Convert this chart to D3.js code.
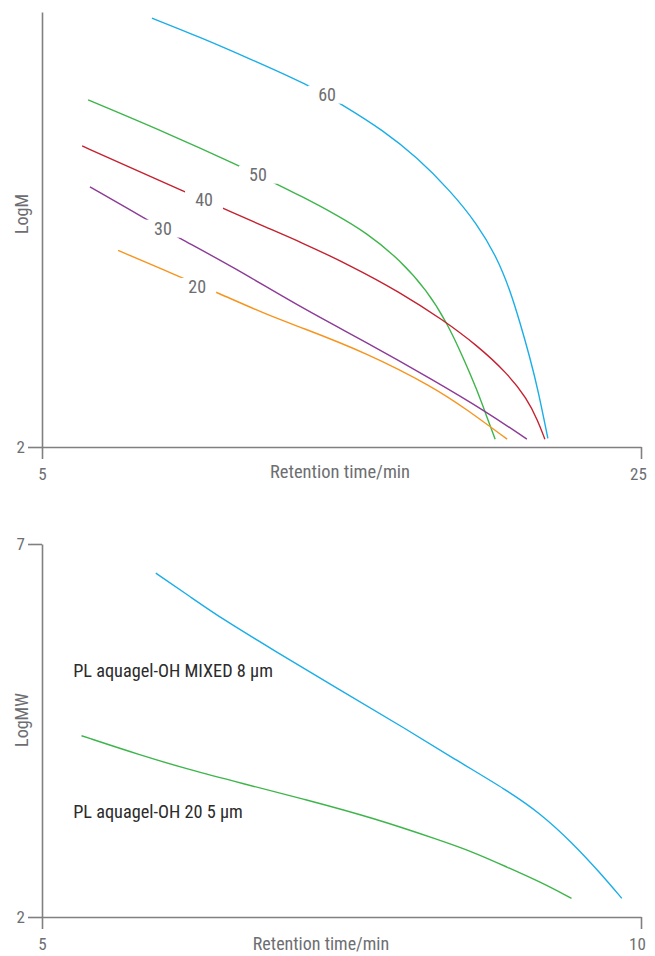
<!DOCTYPE html>
<html>
<head>
<meta charset="utf-8">
<script src="https://cdn.jsdelivr.net/npm/d3@7"></script>
<style>
  html, body { margin: 0; padding: 0; background: #fff; }
  svg { display: block; }
  .ft { font-family: "Liberation Sans Narrow", "Arial Narrow", "Roboto Condensed", "DejaVu Sans Condensed", sans-serif; }
</style>
</head>
<body>
<svg id="chart" width="655" height="956"></svg>
<script>
// ---------- Top chart data (Retention time/min vs LogM) ----------
const topXTicks = [5, 25];
const topYTicks = [2];
const topSeriesNames = ["60", "50", "40", "30", "20"];
const topColors = ["#1aaee8", "#3db54a", "#c5202f", "#8c3b97", "#f7941e"];

const s60x = [8.67, 10.28, 11.95, 13.85, 15.05, 16.39, 17.52, 18.62, 19.52, 20.19, 20.63, 20.96, 21.29, 21.56, 21.89];
const s60y = [6.93, 6.71, 6.46, 6.17, 5.93, 5.64, 5.33, 4.95, 4.57, 4.18, 3.80, 3.43, 3.03, 2.66, 2.10];

const s50x = [6.54, 9.17, 11.54, 12.91, 13.61, 14.72, 15.85, 16.95, 17.85, 18.52, 19.06, 19.52, 19.86, 20.13];
const s50y = [5.99, 5.61, 5.24, 5.01, 4.89, 4.69, 4.46, 4.15, 3.80, 3.43, 3.03, 2.66, 2.34, 2.09];

const s40x = [6.34, 7.84, 9.71, 11.08, 12.51, 13.61, 15.28, 16.95, 18.39, 19.52, 20.53, 21.19, 21.56, 21.79];
const s40y = [5.46, 5.23, 4.94, 4.74, 4.52, 4.36, 4.09, 3.78, 3.46, 3.17, 2.85, 2.56, 2.30, 2.09];

const s30x = [6.60, 8.37, 9.64, 11.38, 13.61, 15.85, 18.06, 19.86, 21.19];
const s30y = [4.99, 4.64, 4.39, 4.07, 3.61, 3.20, 2.77, 2.40, 2.09];

const s20x = [7.54, 9.51, 10.88, 12.51, 13.61, 15.85, 18.06, 19.19, 20.53];
const s20y = [4.26, 3.97, 3.77, 3.52, 3.38, 3.08, 2.69, 2.43, 2.09];

const topLabelX = [14.52, 12.21, 10.41, 9.04, 10.18];
const topLabelY = [6.05, 5.13, 4.84, 4.51, 3.84];

// ---------- Bottom chart data (Retention time/min vs LogMW) ----------
const botXTicks = [5, 10];
const botYTicks = [2, 7];
const botSeriesNames = ["PL aquagel-OH MIXED 8 µm", "PL aquagel-OH 20 5 µm"];
const botColors = ["#1aaee8", "#3db54a"];

const mixedX = [5.95, 6.24, 6.51, 6.93, 7.49, 8.05, 8.46, 8.88, 9.16, 9.43, 9.66, 9.84];
const mixedY = [6.61, 6.29, 5.99, 5.58, 5.04, 4.51, 4.10, 3.70, 3.39, 2.99, 2.59, 2.25];

const oh20X = [5.33, 5.82, 6.24, 6.65, 7.21, 7.76, 8.32, 8.60, 8.88, 9.16, 9.42];
const oh20Y = [4.43, 4.17, 3.97, 3.80, 3.57, 3.33, 3.03, 2.87, 2.67, 2.47, 2.25];

const botLabelX = [5.26, 5.26];
const botLabelY = [5.31, 3.42];

// ---------- Drawing ----------
const svg = d3.select("#chart");
const axisColor = "#808080";
const textColor = "#6d6e71";

function zip(xs, ys) { return xs.map((x, i) => ({ x: x, y: ys[i] })); }

function styleAxis(g) {
  g.selectAll("path.domain").attr("stroke", axisColor).attr("stroke-width", 1.6);
  g.selectAll(".tick line").attr("stroke", axisColor).attr("stroke-width", 1.6);
  g.selectAll(".tick text").attr("fill", textColor).attr("class", "ft").style("font-size", "17px");
}

// Top chart
const xT = d3.scaleLinear().domain([5, 25]).range([42, 641]);
const yT = d3.scaleLinear().domain([2, 7]).range([447, 12]);

const gxT = svg.append("g").attr("transform", `translate(0,${yT(2)})`)
  .call(d3.axisBottom(xT).tickValues(topXTicks).tickFormat(d3.format("d")).tickSize(12).tickSizeOuter(0).tickPadding(9));
styleAxis(gxT);
gxT.selectAll(".tick text").filter(d => d === 25).attr("dx", -3);

const gyT = svg.append("g").attr("transform", `translate(${xT(5)},0)`)
  .call(d3.axisLeft(yT).tickValues(topYTicks).tickFormat(d3.format("d")).tickSize(14).tickSizeOuter(0).tickPadding(3));
styleAxis(gyT);

svg.append("text").attr("class", "ft").attr("x", 340).attr("y", 478)
  .attr("text-anchor", "middle").attr("fill", textColor).style("font-size", "18.5px")
  .text("Retention time/min");
svg.append("text").attr("class", "ft").attr("transform", "translate(28,214) rotate(-90)")
  .attr("text-anchor", "middle").attr("fill", textColor).style("font-size", "18px")
  .text("LogM");

const lineT = d3.line().x(d => xT(d.x)).y(d => yT(d.y)).curve(d3.curveBasis);
const topData = [zip(s60x, s60y), zip(s50x, s50y), zip(s40x, s40y), zip(s30x, s30y), zip(s20x, s20y)];

topData.forEach((d, i) => {
  svg.append("path").datum(d).attr("d", lineT)
    .attr("fill", "none").attr("stroke", topColors[i]).attr("stroke-width", 1.4);
});

topSeriesNames.forEach((name, i) => {
  const cx = xT(topLabelX[i]), cy = yT(topLabelY[i]);
  svg.append("rect").attr("x", cx - 19).attr("y", cy - 9).attr("width", 38).attr("height", 18).attr("fill", "#fff");
  svg.append("text").attr("class", "ft").attr("x", cx).attr("y", cy)
    .attr("dy", "0.36em").attr("text-anchor", "middle").attr("fill", textColor)
    .style("font-size", "18px").text(name);
});

// Bottom chart
const xB = d3.scaleLinear().domain([5, 10]).range([42, 641]);
const yB = d3.scaleLinear().domain([2, 7]).range([917, 544]);

const gxB = svg.append("g").attr("transform", `translate(0,${yB(2)})`)
  .call(d3.axisBottom(xB).tickValues(botXTicks).tickFormat(d3.format("d")).tickSize(12).tickSizeOuter(0).tickPadding(9));
styleAxis(gxB);
gxB.selectAll(".tick text").filter(d => d === 10).attr("dx", -4);

const gyB = svg.append("g").attr("transform", `translate(${xB(5)},0)`)
  .call(d3.axisLeft(yB).tickValues(botYTicks).tickFormat(d3.format("d")).tickSize(14).tickSizeOuter(0).tickPadding(3));
styleAxis(gyB);

svg.append("text").attr("class", "ft").attr("x", 321).attr("y", 950)
  .attr("text-anchor", "middle").attr("fill", textColor).style("font-size", "18px")
  .text("Retention time/min");
svg.append("text").attr("class", "ft").attr("transform", "translate(28,720) rotate(-90)")
  .attr("text-anchor", "middle").attr("fill", textColor).style("font-size", "18px")
  .text("LogMW");

const lineB = d3.line().x(d => xB(d.x)).y(d => yB(d.y)).curve(d3.curveBasis);
const botData = [zip(mixedX, mixedY), zip(oh20X, oh20Y)];
botData.forEach((d, i) => {
  svg.append("path").datum(d).attr("d", lineB)
    .attr("fill", "none").attr("stroke", botColors[i]).attr("stroke-width", 1.4);
});
botSeriesNames.forEach((name, i) => {
  svg.append("text").attr("class", "ft").attr("x", xB(botLabelX[i])).attr("y", yB(botLabelY[i]))
    .attr("dy", "0.36em").attr("fill", "#2b2b2b").style("font-size", "18.3px").text(name);
});
</script>
</body>
</html>
